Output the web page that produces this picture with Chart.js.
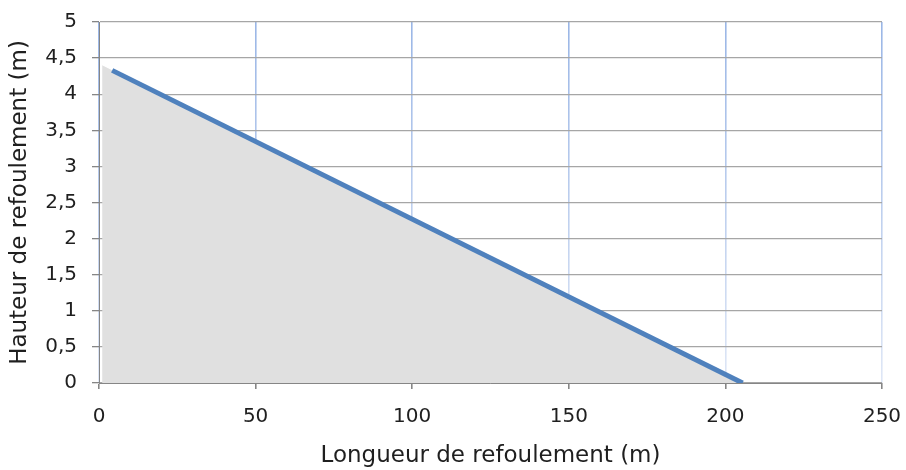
<!DOCTYPE html>
<html><head><meta charset="utf-8">
<script src="https://cdn.jsdelivr.net/npm/chart.js@4/dist/chart.umd.min.js"></script>
<style>html,body{margin:0;padding:0;background:#fff}#wrap{width:906px;height:470px}</style>
</head><body><div id="wrap"><canvas id="c" width="906" height="470"></canvas></div>
<script>
const areaX = [1, 204];
const areaY = [4.4, 0];
const lineX = [4.2, 205.5];
const lineY = [4.33, 0];
const xTicks = [0, 50, 100, 150, 200, 250];
const yTicks = [0, 0.5, 1, 1.5, 2, 2.5, 3, 3.5, 4, 4.5, 5];
const xTitle = 'Longueur de refoulement (m)';
const yTitle = 'Hauteur de refoulement (m)';

const tickFont = {family: "'DejaVu Sans', sans-serif", size: 20};
const titleFont = {family: "'DejaVu Sans', sans-serif", size: 23};
const txt = '#1f1f1f';

new Chart(document.getElementById('c'), {
  type: 'line',
  data: {
    datasets: [
      {data: areaX.map((x,i)=>({x, y: areaY[i]})), fill: 'origin', backgroundColor: '#e0e0e0', borderWidth: 0, pointRadius: 0, order: 2},
      {data: lineX.map((x,i)=>({x, y: lineY[i]})), fill: false, borderColor: '#4f81bd', borderWidth: 5, pointRadius: 0, borderCapStyle: 'butt', order: 1}
    ]
  },
  options: {
    responsive: false, animation: false,
    layout: {padding: {top: 22, right: 24, left: 0, bottom: 0}},
    plugins: {legend: {display: false}, tooltip: {enabled: false}},
    scales: {
      x: {
        type: 'linear', min: 0, max: 250,
        afterBuildTicks: s => { s.ticks = xTicks.map(v => ({value: v})); },
        ticks: {font: tickFont, color: txt, padding: 16, maxRotation: 0},
        grid: {
          lineWidth: 1.6, tickLength: 6, tickColor: '#868686',
          color: ctx => {
            const a = ctx.chart.chartArea;
            if (!a) return '#a6bfe8';
            const g = ctx.chart.ctx.createLinearGradient(0, a.top, 0, a.bottom);
            g.addColorStop(0, '#9ab6e6');
            g.addColorStop(1, '#dfe7f6');
            return g;
          }
        },
        border: {color: '#868686', width: 1},
        title: {display: true, text: xTitle, font: titleFont, color: txt, padding: {top: 0, bottom: 0}},
        afterFit: s => { s.height = 87; s.paddingLeft = 0; s.paddingRight = 0; }
      },
      y: {
        type: 'linear', min: 0, max: 5,
        afterBuildTicks: s => { s.ticks = yTicks.map(v => ({value: v})); },
        ticks: {font: tickFont, color: txt, padding: 15, callback: v => String(v).replace('.', ',')},
        grid: {color: '#a6a6a6', lineWidth: 1.3, tickLength: 7, tickColor: '#868686'},
        border: {color: '#868686', width: 1},
        title: {display: true, text: yTitle, font: titleFont, color: txt, padding: {top: 6, bottom: 0}},
        afterFit: s => { s.width = 99; s.paddingTop = 0; s.paddingBottom = 0; }
      }
    }
  }
});
</script></body></html>
